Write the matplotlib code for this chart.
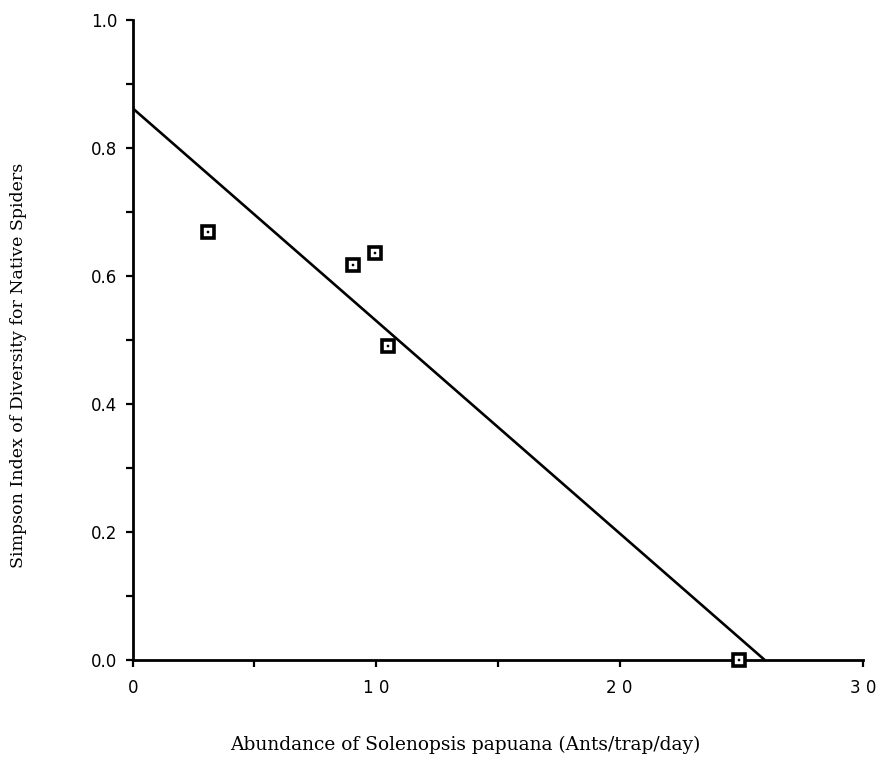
import matplotlib
matplotlib.use('Agg')
import matplotlib.pyplot as plt
import numpy as np

# data
ant_abundance = [3.1, 9.06, 9.97, 10.5, 24.9]
simpson_index = [0.669, 0.617, 0.636, 0.491, 0.0]

# fitted line (intercept, slope) as drawn
fit_intercept = 0.862
fit_slope = -0.0332

x_ticks = [0, 10, 20, 30]
x_tick_labels = ['0', '1 0', '2 0', '3 0']
y_ticks = [0.0, 0.2, 0.4, 0.6, 0.8, 1.0]
y_tick_labels = ['0.0', '0.2', '0.4', '0.6', '0.8', '1.0']

fig = plt.figure(figsize=(8.76, 7.57), dpi=100)
ax = fig.add_axes([0.1515, 0.1281, 0.8337, 0.8455])

# regression line from x=0 down to where it hits zero
x_end = -fit_intercept / fit_slope
xl = np.array([0, x_end])
ax.plot(xl, fit_intercept + fit_slope * xl, color='black', lw=1.9, solid_capstyle='butt', zorder=3)

# square markers with a dot in the middle
ax.plot(ant_abundance, simpson_index, ls='none', marker='s', ms=8.8,
        mfc='white', mec='black', mew=2.6, zorder=4, clip_on=False)
ax.plot(ant_abundance, simpson_index, ls='none', marker='s', ms=1.6,
        mfc='black', mec='black', mew=0.3, zorder=5, clip_on=False)

ax.set_xlim(0, 30)
ax.set_ylim(0, 1.0)

for s in ['top', 'right']:
    ax.spines[s].set_visible(False)
for s in ['left', 'bottom']:
    ax.spines[s].set_linewidth(2.0)

ax.set_xticks(x_ticks)
ax.set_xticklabels(x_tick_labels)
ax.set_xticks([5, 15, 25], minor=True)
ax.set_yticks(y_ticks)
ax.set_yticklabels(y_tick_labels)
ax.set_yticks([0.1, 0.3, 0.5, 0.7, 0.9], minor=True)

ax.tick_params(which='both', direction='out', length=5, width=1.6, color='black')
ax.tick_params(axis='x', which='major', pad=9, labelsize=12)
ax.tick_params(axis='y', which='major', pad=6, labelsize=12)

ax.set_xlabel('Abundance of Solenopsis papuana (Ants/trap/day)',
              family='DejaVu Serif', fontsize=13.4, va='center', ha='center')
ax.xaxis.set_label_coords(0.456, -0.133)
ax.set_ylabel('Simpson Index of Diversity for Native Spiders',
              family='DejaVu Serif', fontsize=12.5, va='center', ha='center')
ax.yaxis.set_label_coords(-0.156, 0.46)

fig.savefig('out.png', dpi=100, facecolor='white')
